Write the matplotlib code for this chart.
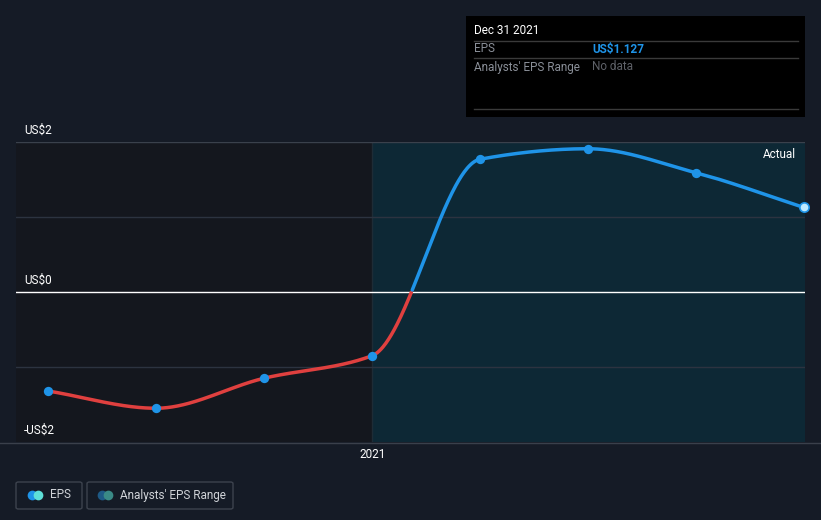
import matplotlib.pyplot as plt
import numpy as np
from matplotlib.patches import Rectangle, FancyBboxPatch
from matplotlib.lines import Line2D

plt.rcParams['font.family'] = ['Roboto', 'DejaVu Sans']

# quarter index (0 = Mar 2020), 2021 tick sits at Dec 2020
quarters = [0, 1, 2, 3, 4, 5, 6, 7]
eps = [-1.32, -1.55, -1.15, -0.85, 1.77, 1.91, 1.59, 1.127]
y_ticks = [2, 0, -2]
y_tick_labels = ["US$2", "US$0", "-US$2"]

W, H = 821, 520
fig = plt.figure(figsize=(W / 100, H / 100), dpi=100)
fig.patch.set_facecolor("#151b26")

# plot area in pixels: x 16..805, y 142..442
x0, x1, y0, y1 = 16, 805, 142, 442
ax = fig.add_axes([x0 / W, 1 - y1 / H, (x1 - x0) / W, (y1 - y0) / H])
ax.set_facecolor("#14171e")
px_per_q = (804 - 48) / 7
xmin = -(48 - x0) / px_per_q
xmax = 7 + (x1 - 804) / px_per_q
ax.set_xlim(xmin, xmax)
ax.set_ylim(-2, 2)
for s in ax.spines.values():
    s.set_visible(False)
ax.set_xticks([])
ax.set_yticks([])

# shaded "actual" region from 2021 onward
ax.axvspan(3, xmax, color="#0d2835", zorder=0, lw=0)
ax.axvline(3, color="#1e2c36", lw=1, zorder=1)

ax.axhline(2, color="#3a414c", lw=1, zorder=1)
for v in [1, -1]:
    ax.axhline(v, color="#2c3340", lw=1, zorder=1)
ax.axhline(0, color="#ffffff", lw=1, zorder=2)


def pchip(x, y, xs):
    x = np.asarray(x, float)
    y = np.asarray(y, float)
    h = np.diff(x)
    d = np.diff(y) / h
    m = np.zeros_like(y)
    for i in range(1, len(y) - 1):
        if d[i - 1] * d[i] > 0:
            w1 = 2 * h[i] + h[i - 1]
            w2 = h[i] + 2 * h[i - 1]
            m[i] = (w1 + w2) / (w1 / d[i - 1] + w2 / d[i])
    m[0] = d[0]
    m[-1] = d[-1]
    idx = np.clip(np.searchsorted(x, xs) - 1, 0, len(x) - 2)
    t = (xs - x[idx]) / h[idx]
    h00 = 2 * t**3 - 3 * t**2 + 1
    h10 = t**3 - 2 * t**2 + t
    h01 = -2 * t**3 + 3 * t**2
    h11 = t**3 - t**2
    return h00 * y[idx] + h10 * h[idx] * m[idx] + h01 * y[idx + 1] + h11 * h[idx] * m[idx + 1]


xs = np.linspace(quarters[0], quarters[-1], 800)
ys = pchip(quarters, eps, xs)
ax.plot(xs, np.where(ys <= 0, ys, np.nan), color="#e0403f", lw=2.5, zorder=3,
        solid_capstyle="round")
ax.plot(xs, np.where(ys >= 0, ys, np.nan), color="#1f94e8", lw=2.5, zorder=3,
        solid_capstyle="round")
ax.scatter(quarters[:-1], eps[:-1], s=45, color="#1f94e8", zorder=4, lw=0)
ax.scatter(quarters[-1:], eps[-1:], s=45, color="#bfeaff", edgecolor="#1f94e8",
           lw=1.2, zorder=4, clip_on=False)

ax.text(xmax - 0.08, 1.84, "Actual", color="#ffffff", fontsize=8.5,
        ha="right", va="center")

# y labels
for v, lab in zip(y_ticks, y_tick_labels):
    ypix = 292 - v * 75 - 12
    fig.text(24 / W, 1 - ypix / H, lab, color="#ffffff", fontsize=8.5,
             ha="left", va="center")

# x tick
fig.text(373 / W, 1 - 455 / H, "2021", color="#ffffff", fontsize=8.5,
         ha="center", va="center")
fig.add_artist(Line2D([0, 1], [1 - 443 / H, 1 - 443 / H], color="#3a404b", lw=1))

# tooltip
fig.add_artist(Rectangle((466 / W, 1 - 117 / H), 339 / W, 101 / H,
                         facecolor="#000000", edgecolor="none"))
for yl in [41, 58, 109]:
    fig.add_artist(Line2D([474 / W, 798 / W], [1 - yl / H, 1 - yl / H],
                          color="#3a3a3a", lw=1))
fig.text(474 / W, 1 - 31 / H, "Dec 31 2021", color="#ffffff", fontsize=8.5,
         va="center")
fig.text(474 / W, 1 - 49 / H, "EPS", color="#8a8f98", fontsize=8.5, va="center")
fig.text(592 / W, 1 - 49 / H, "US$1.127", color="#1f94e8", fontsize=8.5,
         va="center", fontweight="bold")
fig.text(474 / W, 1 - 67 / H, "Analysts' EPS Range", color="#8a8f98",
         fontsize=8.5, va="center")
fig.text(592 / W, 1 - 67 / H, "No data", color="#5e6168", fontsize=8.5,
         va="center")

# legend
for bx, bw in [(16, 66), (87, 146)]:
    fig.add_artist(FancyBboxPatch((bx / W, 1 - 509 / H), bw / W, 27 / H,
                                  boxstyle="round,pad=0,rounding_size=0.003",
                                  facecolor="none", edgecolor="#3d434e", lw=1))
for cx, c in [(32, "#1f94e8"), (38, "#5ee0d8"), (102, "#1e5a86"), (108, "#3a8a86")]:
    fig.add_artist(Line2D([cx / W], [1 - 495 / H], marker="o", ms=7,
                          color=c, mec="none"))
fig.text(50 / W, 1 - 495 / H, "EPS", color="#d0d3d8", fontsize=8.5, va="center")
fig.text(120 / W, 1 - 495 / H, "Analysts' EPS Range", color="#d0d3d8",
         fontsize=8.5, va="center")

fig.savefig("out.png", dpi=100, facecolor=fig.get_facecolor())
